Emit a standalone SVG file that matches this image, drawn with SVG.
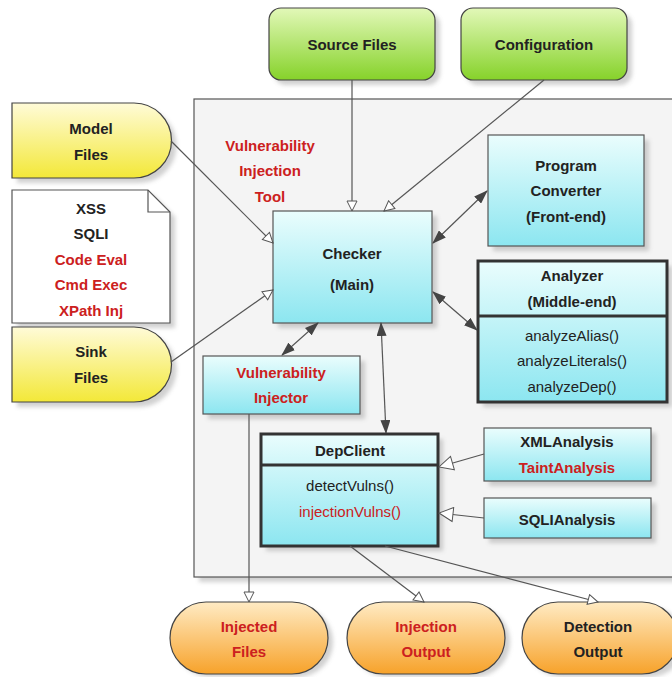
<svg xmlns="http://www.w3.org/2000/svg" width="672" height="677" viewBox="0 0 672 677">
<style>
.t{font-family:"Liberation Sans",Arial,sans-serif;font-size:15px;font-weight:bold;fill:#222;text-anchor:middle}
.m{font-family:"Liberation Sans",Arial,sans-serif;font-size:15px;fill:#222;text-anchor:middle}
text.r{fill:#cc2020}
.ln{stroke:#555;stroke-width:1.2;fill:none}
.sh{fill:#999;opacity:.45;filter:url(#blur)}
</style>
<defs>
<filter id="blur" x="-10%" y="-10%" width="130%" height="130%"><feGaussianBlur stdDeviation="2"/></filter>
<linearGradient id="gG" x1="0" y1="0" x2="0" y2="1"><stop offset="0" stop-color="#e2f8b8"/><stop offset="1" stop-color="#86d22a"/></linearGradient>
<linearGradient id="gY" x1="0" y1="0" x2="0" y2="1"><stop offset="0" stop-color="#fffbd8"/><stop offset="1" stop-color="#f3e838"/></linearGradient>
<linearGradient id="gC" x1="0" y1="0" x2="0" y2="1"><stop offset="0" stop-color="#eafdfd"/><stop offset="1" stop-color="#8ce6f0"/></linearGradient>
<linearGradient id="gO" x1="0" y1="0" x2="0" y2="1"><stop offset="0" stop-color="#ffebc4"/><stop offset="1" stop-color="#f7a22a"/></linearGradient>
<marker id="hol" viewBox="0 0 12 12" refX="11" refY="6" markerWidth="12" markerHeight="12" markerUnits="userSpaceOnUse" orient="auto"><path d="M1,1 L11,6 L1,11 Z" fill="#fff" stroke="#555" stroke-width="1"/></marker>
<marker id="big" viewBox="0 0 16 16" refX="15" refY="8" markerWidth="16" markerHeight="16" markerUnits="userSpaceOnUse" orient="auto"><path d="M1,1 L15,8 L1,15 Z" fill="#fff" stroke="#555" stroke-width="1"/></marker>
<marker id="fil" viewBox="0 0 14 10" refX="13" refY="5" markerWidth="14" markerHeight="10" markerUnits="userSpaceOnUse" orient="auto-start-reverse"><path d="M0,0 L14,5 L0,10 Z" fill="#444"/></marker>
</defs>
<rect width="672" height="677" fill="#fff"/>

<g id="container">
<rect class="sh" x="199" y="104" width="480" height="478"/>
<rect x="194" y="99" width="485" height="478" fill="#f4f4f4" stroke="#555" stroke-width="1.2"/>
<text class="t r" x="270" y="151">Vulnerability</text>
<text class="t r" x="270" y="176">Injection</text>
<text class="t r" x="270" y="202">Tool</text>
</g>

<g id="source-files">
<rect class="sh" x="274" y="13" width="166" height="72" rx="12"/>
<rect x="269" y="8" width="166" height="72" rx="12" fill="url(#gG)" stroke="#444" stroke-width="1.2"/>
<text class="t" x="352" y="50">Source Files</text>
</g>
<g id="configuration">
<rect class="sh" x="466" y="13" width="166" height="72" rx="12"/>
<rect x="461" y="8" width="166" height="72" rx="12" fill="url(#gG)" stroke="#444" stroke-width="1.2"/>
<text class="t" x="544" y="50">Configuration</text>
</g>

<g id="model-files">
<path class="sh" d="M17,108 H139 A37.5,37.5 0 0 1 139,183 H17 Z"/>
<path d="M12,103 H134 A37.5,37.5 0 0 1 134,178 H12 Z" fill="url(#gY)" stroke="#444" stroke-width="1.2"/>
<text class="t" x="91" y="134">Model</text>
<text class="t" x="91" y="160">Files</text>
</g>

<g id="vuln-types">
<path class="sh" d="M17,195 H153 L175,217 V328 H17 Z"/>
<path d="M12,190 H148 L170,212 V323 H12 Z" fill="#fff" stroke="#555" stroke-width="1.2"/>
<path d="M148,190 V212 H170" fill="none" stroke="#555" stroke-width="1.2"/>
<text class="t" x="91" y="214">XSS</text>
<text class="t" x="91" y="239">SQLI</text>
<text class="t r" x="91" y="265">Code Eval</text>
<text class="t r" x="91" y="290">Cmd Exec</text>
<text class="t r" x="91" y="316">XPath Inj</text>
</g>

<g id="sink-files">
<path class="sh" d="M17,332 H139 A37.5,37.5 0 0 1 139,407 H17 Z"/>
<path d="M12,327 H134 A37.5,37.5 0 0 1 134,402 H12 Z" fill="url(#gY)" stroke="#444" stroke-width="1.2"/>
<text class="t" x="91" y="357">Sink</text>
<text class="t" x="91" y="383">Files</text>
</g>

<g id="checker">
<rect class="sh" x="278" y="216" width="159" height="112"/>
<rect x="273" y="211" width="159" height="112" fill="url(#gC)" stroke="#555" stroke-width="1.2"/>
<text class="t" x="352" y="259">Checker</text>
<text class="t" x="352" y="290">(Main)</text>
</g>

<g id="program-converter">
<rect class="sh" x="493" y="140" width="156" height="111"/>
<rect x="488" y="135" width="156" height="111" fill="url(#gC)" stroke="#555" stroke-width="1.2"/>
<text class="t" x="566" y="171">Program</text>
<text class="t" x="566" y="196">Converter</text>
<text class="t" x="566" y="222">(Front-end)</text>
</g>

<g id="analyzer">
<rect class="sh" x="483" y="266" width="189" height="141"/>
<rect x="478" y="261" width="189" height="141" fill="url(#gC)" stroke="#333" stroke-width="3"/>
<line x1="478" y1="316" x2="667" y2="316" stroke="#333" stroke-width="3"/>
<text class="t" x="572" y="281">Analyzer</text>
<text class="t" x="572" y="307">(Middle-end)</text>
<text class="m" x="572" y="341">analyzeAlias()</text>
<text class="m" x="572" y="366">analyzeLiterals()</text>
<text class="m" x="572" y="392">analyzeDep()</text>
</g>

<g id="vulnerability-injector">
<rect class="sh" x="208" y="361" width="157" height="58"/>
<rect x="203" y="356" width="157" height="58" fill="url(#gC)" stroke="#555" stroke-width="1.2"/>
<text class="t r" x="281" y="378">Vulnerability</text>
<text class="t r" x="281" y="403">Injector</text>
</g>

<g id="depclient">
<rect class="sh" x="266" y="439" width="177" height="112"/>
<rect x="261" y="434" width="177" height="112" fill="url(#gC)" stroke="#333" stroke-width="3"/>
<line x1="261" y1="465" x2="438" y2="465" stroke="#333" stroke-width="3"/>
<text class="t" x="350" y="456">DepClient</text>
<text class="m" x="350" y="491">detectVulns()</text>
<text class="m r" x="350" y="517">injectionVulns()</text>
</g>

<g id="xmlanalysis">
<rect class="sh" x="489" y="433" width="167" height="53"/>
<rect x="484" y="428" width="167" height="53" fill="url(#gC)" stroke="#555" stroke-width="1.2"/>
<text class="t" x="567" y="447">XMLAnalysis</text>
<text class="t r" x="567" y="473">TaintAnalysis</text>
</g>

<g id="sqlianalysis">
<rect class="sh" x="489" y="503" width="167" height="40"/>
<rect x="484" y="498" width="167" height="40" fill="url(#gC)" stroke="#555" stroke-width="1.2"/>
<text class="t" x="567" y="525">SQLIAnalysis</text>
</g>

<g id="injected-files">
<rect class="sh" x="175" y="607" width="158" height="70" rx="35"/>
<rect x="170" y="602" width="158" height="72" rx="36" fill="url(#gO)" stroke="#444" stroke-width="1.2"/>
<text class="t r" x="249" y="632">Injected</text>
<text class="t r" x="249" y="657">Files</text>
</g>
<g id="injection-output">
<rect class="sh" x="352" y="607" width="158" height="70" rx="35"/>
<rect x="347" y="602" width="158" height="72" rx="36" fill="url(#gO)" stroke="#444" stroke-width="1.2"/>
<text class="t r" x="426" y="632">Injection</text>
<text class="t r" x="426" y="657">Output</text>
</g>
<g id="detection-output">
<rect class="sh" x="527" y="607" width="158" height="70" rx="35"/>
<rect x="522" y="602" width="156" height="72" rx="36" fill="url(#gO)" stroke="#444" stroke-width="1.2"/>
<text class="t" x="598" y="632">Detection</text>
<text class="t" x="598" y="657">Output</text>
</g>

<g id="connectors">
<line class="ln" x1="352" y1="80" x2="352" y2="211" marker-end="url(#hol)"/>
<line class="ln" x1="544" y1="80" x2="384" y2="211" marker-end="url(#hol)"/>
<line class="ln" x1="171" y1="141" x2="273" y2="243" marker-end="url(#hol)"/>
<line class="ln" x1="171" y1="362" x2="273" y2="290" marker-end="url(#hol)"/>
<line class="ln" x1="433" y1="243" x2="487" y2="191" marker-start="url(#fil)" marker-end="url(#fil)"/>
<line class="ln" x1="433" y1="292" x2="477" y2="330" marker-start="url(#fil)" marker-end="url(#fil)"/>
<line class="ln" x1="318" y1="323" x2="282" y2="355" marker-start="url(#fil)" marker-end="url(#fil)"/>
<line class="ln" x1="381" y1="323" x2="386" y2="433" marker-start="url(#fil)" marker-end="url(#fil)"/>
<line class="ln" x1="484" y1="454" x2="439" y2="467" marker-end="url(#big)"/>
<line class="ln" x1="484" y1="518" x2="439" y2="513" marker-end="url(#big)"/>
<line class="ln" x1="249" y1="414" x2="249" y2="602" marker-end="url(#hol)"/>
<line class="ln" x1="350" y1="546" x2="424" y2="602" marker-end="url(#hol)"/>
<line class="ln" x1="385" y1="546" x2="598" y2="602" marker-end="url(#hol)"/>
</g>
</svg>
